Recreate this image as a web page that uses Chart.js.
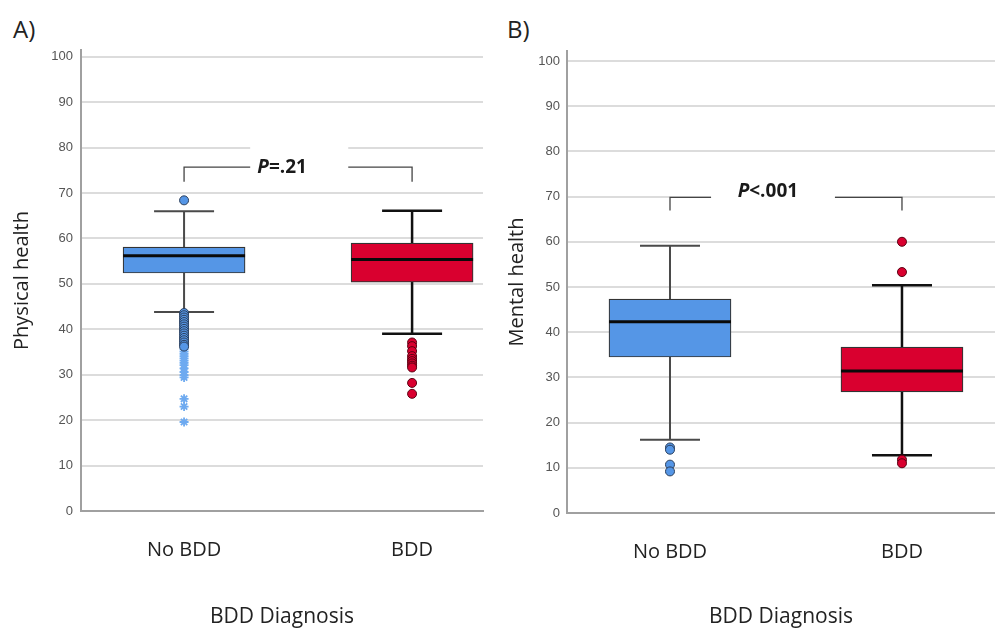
<!DOCTYPE html>
<html>
<head>
<meta charset="utf-8">
<script src="https://cdn.jsdelivr.net/npm/chart.js@4.4.1/dist/chart.umd.min.js"></script>
<style>
  html, body { margin: 0; padding: 0; background: #fff; }
  #wrap { position: relative; width: 995px; height: 630px; overflow: hidden; }
  .panel { position: absolute; top: 0; }
  .tag { position: absolute; top: 12px; font: 24px "Open Sans", sans-serif; color: #222; }
</style>
</head>
<body>
<div id="wrap">
  <div class="tag" style="left:13px">A)</div>
  <div class="tag" style="left:507px">B)</div>
  <div class="panel" style="left:0"><canvas id="physChart" width="495" height="630"></canvas></div>
  <div class="panel" style="left:495px"><canvas id="mentChart" width="500" height="630"></canvas></div>
</div>
<script>
const categories = ['No BDD', 'BDD'];
const yTickValues = [0, 10, 20, 30, 40, 50, 60, 70, 80, 90, 100];

// A) Physical health
const physLow = [43.8, 39.0];
const physQ1 = [52.4, 50.4];
const physMedian = [56.2, 55.4];
const physQ3 = [58.1, 59.0];
const physHigh = [66.0, 66.1];
const physOutNoBdd = [68.4, 43.6, 43.1, 42.6, 42.1, 41.6, 41.1, 40.6, 40.1, 39.6, 39.1, 38.6, 38.1, 37.6, 37.1, 36.6, 36.2];
const physExtremeNoBdd = [35.6, 35.1, 34.6, 34.1, 33.6, 33.1, 32.6, 32.1, 31.4, 30.6, 29.9, 29.4, 24.7, 23.0, 19.6];
const physOutBdd = [37.1, 36.3, 35.2, 34.1, 33.5, 33.0, 32.5, 32.0, 31.6, 28.2, 25.8];

// B) Mental health
const mentLow = [16.2, 12.8];
const mentQ1 = [34.5, 26.8];
const mentMedian = [42.3, 31.4];
const mentQ3 = [47.3, 36.7];
const mentHigh = [59.1, 50.4];
const mentOutNoBdd = [14.5, 14.0, 10.7, 9.2];
const mentOutBdd = [60.0, 53.3, 11.8, 11.0];

const BLUE = '#5596e6';
const RED = '#d9002f';

const boxParts = {
  id: 'boxParts',
  beforeDatasetsDraw(chart, args, o) {
    const {ctx, scales: {x, y}} = chart;
    ctx.save();
    // white patch behind the p-value label
    ctx.fillStyle = '#fff';
    const gx0 = x.getPixelForValue(o.gapFrom), gx1 = x.getPixelForValue(o.gapTo);
    const gy0 = y.getPixelForValue(o.patchTop), gy1 = y.getPixelForValue(o.patchBottom);
    ctx.fillRect(gx0, gy0, gx1 - gx0, gy1 - gy0);
    // whiskers
    o.low.forEach((lo, i) => {
      const px = x.getPixelForValue(i);
      ctx.strokeStyle = i === 0 ? '#4a4a4a' : '#111';
      ctx.lineWidth = i === 0 ? 2 : 2.5;
      ctx.beginPath();
      ctx.moveTo(px, y.getPixelForValue(lo));
      ctx.lineTo(px, y.getPixelForValue(o.q1[i]));
      ctx.moveTo(px, y.getPixelForValue(o.q3[i]));
      ctx.lineTo(px, y.getPixelForValue(o.high[i]));
      [lo, o.high[i]].forEach(v => {
        const py = y.getPixelForValue(v);
        ctx.moveTo(px - 30, py);
        ctx.lineTo(px + 30, py);
      });
      ctx.stroke();
    });
    ctx.restore();
  },
  afterDatasetsDraw(chart, args, o) {
    const {ctx, scales: {x, y}} = chart;
    const bars = chart.getDatasetMeta(0).data;
    ctx.save();
    // medians
    ctx.strokeStyle = '#0a0a0a';
    ctx.lineWidth = 3;
    o.median.forEach((m, i) => {
      const px = x.getPixelForValue(i), py = y.getPixelForValue(m);
      const w = bars[i].width / 2;
      ctx.beginPath();
      ctx.moveTo(px - w, py);
      ctx.lineTo(px + w, py);
      ctx.stroke();
    });
    // bracket
    const bx0 = x.getPixelForValue(0), bx1 = x.getPixelForValue(1);
    const by = y.getPixelForValue(o.bracketY), bd = y.getPixelForValue(o.dropY);
    ctx.strokeStyle = '#444';
    ctx.lineWidth = 1.3;
    ctx.beginPath();
    ctx.moveTo(bx0, bd); ctx.lineTo(bx0, by); ctx.lineTo(x.getPixelForValue(o.gapFrom), by);
    ctx.moveTo(x.getPixelForValue(o.gapTo), by); ctx.lineTo(bx1, by); ctx.lineTo(bx1, bd);
    ctx.stroke();
    // p-value text
    ctx.fillStyle = '#1a1a1a';
    ctx.textBaseline = 'middle';
    ctx.font = 'italic bold 19px "Open Sans"';
    const wP = ctx.measureText('P').width;
    ctx.font = 'bold 19px "Open Sans"';
    const wR = ctx.measureText(o.note).width;
    let tx = x.getPixelForValue(o.textX) - (wP + wR) / 2;
    const ty = y.getPixelForValue(o.textY);
    ctx.font = 'italic bold 19px "Open Sans"';
    ctx.fillText('P', tx, ty);
    ctx.font = 'bold 19px "Open Sans"';
    ctx.fillText(o.note, tx + wP, ty);
    ctx.restore();
  }
};

function makeChart(id, cfg) {
  const outs = [
    {type: 'scatter', data: cfg.outNoBdd.map(v => ({x: 0, y: v})), pointStyle: 'circle', pointRadius: 4.5,
      backgroundColor: BLUE, borderColor: '#2b3f5c', borderWidth: 1},
    {type: 'scatter', data: cfg.outBdd.map(v => ({x: 1, y: v})), pointStyle: 'circle', pointRadius: 4.5,
      backgroundColor: RED, borderColor: '#5a0012', borderWidth: 1}
  ];
  if (cfg.extremeNoBdd) {
    outs.push({type: 'scatter', data: cfg.extremeNoBdd.map(v => ({x: 0, y: v})), pointStyle: 'star', pointRadius: 4.5,
      backgroundColor: '#6eaaf0', borderColor: '#6eaaf0', borderWidth: 1.8});
  }
  return new Chart(document.getElementById(id), {
    type: 'bar',
    data: {
      datasets: [{
        data: categories.map((c, i) => ({x: i, y: [cfg.q1[i], cfg.q3[i]]})),
        backgroundColor: [BLUE, RED],
        borderColor: '#333',
        borderWidth: 1.2,
        borderSkipped: false,
        barThickness: 122
      }, ...outs]
    },
    options: {
      responsive: false,
      animation: false,
      layout: {autoPadding: false, padding: {top: cfg.top, right: cfg.right, left: 0, bottom: 0}},
      plugins: {
        legend: {display: false},
        tooltip: {enabled: false},
        boxParts: {
          low: cfg.low, q1: cfg.q1, median: cfg.median, q3: cfg.q3, high: cfg.high,
          note: cfg.note, bracketY: cfg.bracketY, dropY: cfg.dropY, textX: cfg.textX, textY: cfg.textY,
          gapFrom: cfg.gapFrom, gapTo: cfg.gapTo, patchTop: cfg.patchTop, patchBottom: cfg.patchBottom
        }
      },
      scales: {
        x: {
          type: 'linear',
          offset: false,
          min: cfg.xMin,
          max: cfg.xMax,
          afterBuildTicks: s => { s.ticks = categories.map((c, i) => ({value: i})); },
          afterFit: s => { s.height = cfg.xHeight; },
          grid: {display: false},
          border: {color: '#a0a0a0', width: 2},
          ticks: {
            padding: 19,
            color: '#222',
            font: {family: 'Open Sans', size: 20},
            callback: v => categories[v] ?? ''
          },
          title: {display: true, text: 'BDD Diagnosis', color: '#222',
            font: {family: 'Open Sans', size: 21}, padding: {top: 0, bottom: 0}}
        },
        y: {
          min: 0,
          max: cfg.yMax,
          afterBuildTicks: s => { s.ticks = yTickValues.map(v => ({value: v})); },
          afterFit: s => { s.width = cfg.yWidth; },
          grid: {color: '#dcdcdc', lineWidth: 2, drawTicks: false},
          border: {color: '#a0a0a0', width: 2},
          ticks: {padding: cfg.tickPad, color: '#555', font: {family: 'Liberation Sans', size: 13}},
          title: {display: true, text: cfg.yTitle, color: '#222',
            font: {family: 'Open Sans', size: 20}, padding: {top: 10, bottom: 0}}
        }
      }
    },
    plugins: [boxParts]
  });
}

makeChart('physChart', {
  low: physLow, q1: physQ1, median: physMedian, q3: physQ3, high: physHigh,
  outNoBdd: physOutNoBdd, extremeNoBdd: physExtremeNoBdd, outBdd: physOutBdd,
  yTitle: 'Physical health', yMax: 101.5, top: 50, right: 12, yWidth: 81, xHeight: 119, tickPad: 8,
  xMin: -0.452, xMax: 1.311,
  note: '=.21', bracketY: 75.7, dropY: 72.5, textX: 0.43, textY: 75.7,
  gapFrom: 0.29, gapTo: 0.72, patchTop: 81.5, patchBottom: 72.5
});

makeChart('mentChart', {
  low: mentLow, q1: mentQ1, median: mentMedian, q3: mentQ3, high: mentHigh,
  outNoBdd: mentOutNoBdd, outBdd: mentOutBdd,
  yTitle: 'Mental health', yMax: 102.2, top: 51, right: 0, yWidth: 72, xHeight: 117, tickPad: 7,
  xMin: -0.444, xMax: 1.401,
  note: '<.001', bracketY: 69.8, dropY: 66.9, textX: 0.422, textY: 71.0,
  gapFrom: 0.177, gapTo: 0.711, patchTop: 73.5, patchBottom: 67.0
});
</script>
</body>
</html>
